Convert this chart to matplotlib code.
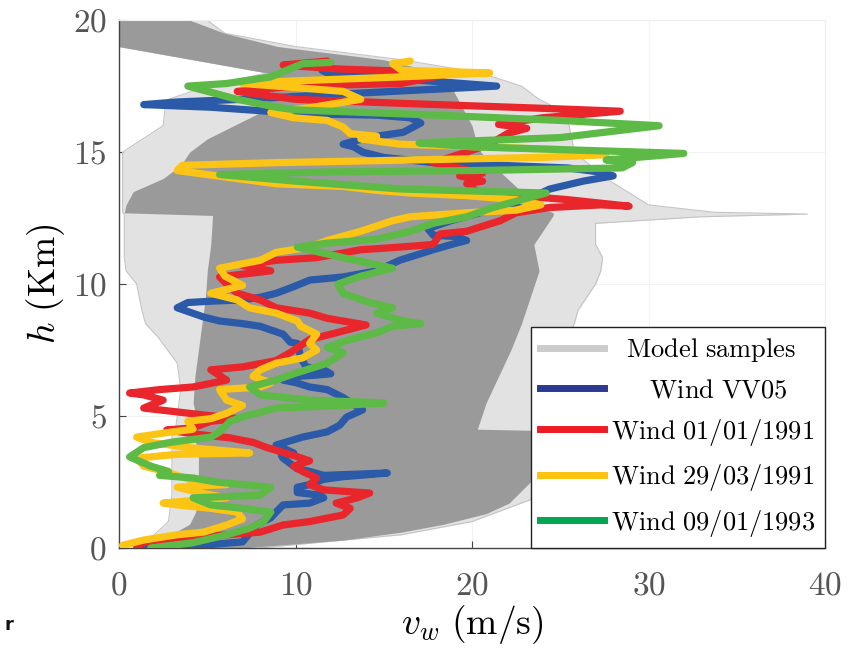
import matplotlib
matplotlib.use("Agg")
import matplotlib.pyplot as plt
from matplotlib.lines import Line2D

plt.rcParams['mathtext.fontset'] = 'cm'
plt.rcParams['font.family'] = ['cmr10', 'DejaVu Serif']
plt.rcParams['axes.formatter.use_mathtext'] = True

# ---------------- model samples envelope ----------------
dense_h = [0.0, 0.3, 0.6, 0.9, 1.3, 1.7, 2.5, 3.5, 4.45, 4.5, 5.5, 6.5, 7.5, 8.5, 9.5,
           10.5, 11.5, 12.6, 12.7, 13.0, 13.5, 14.0, 14.5, 15.0, 15.5, 16.0, 16.5, 17.0,
           17.5, 18.0, 18.5, 19.0, 19.5, 20.0]
dense_left = [1.5, 2.5, 3.2, 4.0, 4.3, 4.5, 4.5, 4.5, 4.2, 4.5, 4.2, 4.3, 4.5, 4.7, 4.9,
              5.0, 5.2, 5.3, 0.3, 0.4, 0.8, 2.5, 3.5, 4.0, 5.0, 6.5, 8.0, 8.5,
              8.7, 8.4, 4.2, 0.0, 0.0, 0.0]
dense_right = [7.0, 12.7, 16.0, 18.4, 20.8, 22.1, 23.3, 23.8, 24.0, 20.3, 20.8, 21.5, 22.2, 22.8, 23.3,
               23.8, 23.5, 24.6, 24.6, 23.5, 22.8, 22.0, 21.2, 20.5, 20.2, 20.0, 19.6, 19.2,
               18.8, 18.2, 15.0, 9.0, 6.0, 4.0]

light_h = [0.0, 0.5, 1.0, 2.0, 3.0, 4.4, 4.5, 6.0, 7.0, 8.0, 8.5, 9.0, 10.0, 10.5, 11.0,
           11.5, 12.3, 12.55, 12.65, 12.72, 13.0, 14.0, 15.0, 16.0, 16.6, 17.0, 17.5,
           18.0, 18.5, 19.0, 19.5, 20.0]
light_left = [1.0, 2.0, 2.8, 3.0, 3.0, 3.0, 3.2, 3.5, 3.3, 2.2, 1.5, 1.3, 1.0, 0.4, 0.3,
              0.3, 0.3, 0.3, 0.3, 0.2, 0.2, 0.2, 0.2, 2.5, 2.6, 2.8, 5.0,
              8.4, 4.2, 0.0, 0.0, 0.0]
light_right = [8.0, 16.0, 20.0, 24.0, 25.0, 25.5, 25.0, 25.0, 25.2, 25.5, 25.8, 26.0, 27.0, 27.3, 27.4,
               27.0, 27.0, 33.0, 39.0, 33.7, 30.0, 27.6, 25.8, 25.5, 25.0, 23.8, 22.8,
               20.5, 16.0, 10.0, 6.0, 5.0]

# ---------------- measured wind profiles (v [m/s], h [km]) ----------------
vv05_v = [1.2, 3.0, 5.0, 7.0, 7.8, 8.6, 8.9, 9.3, 10.8, 11.6, 11.4, 10.1, 10.1, 10.8, 11.6, 12.7,
          15.2, 11.6, 10.8, 10.1, 9.3, 9.2, 9.9, 8.9, 10.4, 11.8, 12.5, 12.9, 13.8, 13.5, 12.7,
          11.8, 10.8, 10.1, 9.3, 10.1, 11.2, 12.0, 11.6, 10.6, 10.3, 10.2, 10.1, 9.7, 9.3, 8.0,
          7.0, 5.7, 4.8, 3.3, 3.9, 5.2, 7.0, 8.0, 8.9, 9.9, 10.8, 12.7, 14.6, 15.9, 17.8, 19.1,
          19.7, 19.1, 17.8, 17.5, 18.8, 21.0, 23.1, 24.4, 26.3, 28.0, 27.2, 25.4, 21.6, 17.8,
          15.0, 13.8, 13.3, 12.7, 13.5, 14.6, 16.1, 17.1, 16.5, 14.6, 10.8, 8.4, 5.2, 1.4, 3.3,
          7.0, 8.4, 14.0, 21.4, 16.5, 16.5, 11.8, 11.5]
vv05_h = [0.0, 0.05, 0.12, 0.23, 0.87, 1.14, 1.36, 1.63, 1.7, 1.9, 2.0, 2.1, 2.3, 2.4, 2.6, 2.7,
          2.84, 2.75, 2.9, 3.0, 3.4, 3.5, 3.6, 3.9, 4.2, 4.4, 4.65, 4.96, 5.23, 5.35, 5.7,
          6.0, 6.1, 6.25, 6.36, 6.5, 6.55, 6.6, 6.75, 6.86, 7.2, 7.5, 7.75, 7.8, 8.1, 8.4,
          8.5, 8.6, 8.75, 9.1, 9.3, 9.35, 9.4, 9.5, 9.65, 9.9, 10.15, 10.27, 10.5, 10.9, 11.3, 11.55,
          11.65, 11.8, 11.85, 12.1, 12.4, 12.8, 13.2, 13.6, 13.9, 14.1, 14.25, 14.4, 14.5, 14.6,
          14.8, 15.0, 15.2, 15.3, 15.45, 15.6, 15.75, 16.1, 16.3, 16.4, 16.45, 16.55, 16.7, 16.8, 16.9,
          17.0, 17.05, 17.25, 17.5, 17.75, 17.9, 18.0, 18.1]

r91_v = [1.0, 1.4, 4.2, 6.1, 8.0, 9.3, 10.8, 12.7, 13.1, 12.3, 13.5, 14.2, 11.6, 10.8, 11.2, 10.4,
         9.9, 10.8, 9.9, 8.4, 7.6, 6.3, 4.5, 2.7, 4.2, 5.2, 6.7, 4.0, 1.4, 2.5, 1.4, 0.6, 2.3,
         4.2, 6.1, 5.2, 7.0, 8.9, 9.7, 10.8, 12.0, 14.0, 11.8, 10.8, 8.9, 8.0, 6.7, 6.1, 5.7,
         8.6, 7.0, 8.9, 11.2, 13.7, 15.9, 17.8, 18.2, 19.7, 21.6, 22.5, 24.4, 27.3, 28.9, 25.4,
         23.5, 20.5, 19.7, 20.6, 19.3, 20.6, 17.8, 19.7, 21.0, 22.0, 23.1, 21.5, 24.0, 28.4,
         24.4, 15.9, 10.0, 6.7, 10.0, 16.0, 19.0, 12.4, 9.3, 11.8]
r91_h = [0.05, 0.2, 0.38, 0.5, 0.6, 0.87, 1.0, 1.25, 1.5, 1.7, 1.9, 2.08, 2.2, 2.4, 2.65, 2.9,
         3.1, 3.3, 3.5, 3.8, 4.0, 4.17, 4.3, 4.47, 4.55, 4.8, 4.9, 5.1, 5.3, 5.6, 5.8, 5.87, 6.0,
         6.1, 6.36, 6.75, 6.86, 7.1, 7.4, 7.9, 8.1, 8.45, 8.7, 8.9, 9.1, 9.4, 9.65, 10.0, 10.27,
         10.5, 10.7, 10.9, 11.0, 11.3, 11.4, 11.5, 11.9, 12.0, 12.4, 12.7, 12.9, 13.0, 12.95, 13.2,
         13.3, 13.4, 13.8, 13.9, 14.1, 14.2, 14.6, 15.0, 15.3, 15.7, 15.9, 16.05, 16.3, 16.55,
         16.65, 16.85, 17.0, 17.3, 17.5, 17.6, 18.0, 18.15, 18.3, 18.45]

y91_v = [0.2, 1.4, 3.3, 4.8, 6.1, 7.0, 6.7, 5.2, 3.3, 2.5, 4.2, 6.1, 4.5, 3.3, 4.5, 6.1, 4.0,
         2.3, 1.4, 1.0, 3.3, 7.4, 4.0, 1.8, 1.0, 2.5, 4.2, 3.9, 5.2, 6.1, 7.0, 6.1, 5.7, 8.0,
         8.6, 7.6, 8.0, 8.9, 10.4, 11.2, 10.8, 11.2, 10.3, 10.1, 8.9, 7.4, 6.7, 5.2, 7.0, 6.0,
         5.7, 8.0, 8.9, 10.8, 11.8, 13.7, 15.5, 16.5, 19.7, 22.5, 23.9, 22.5, 19.7, 16.5, 14.6,
         12.7, 8.9, 6.1, 3.3, 3.6, 8.9, 16.5, 24.0, 27.6, 24.9, 15.9, 13.7, 14.6, 13.1, 12.7,
         11.8, 9.9, 8.6, 11.0, 13.7, 12.7, 9.9, 7.0, 10.0, 16.0, 21.0, 16.0, 15.5, 16.5]
y91_h = [0.1, 0.3, 0.5, 0.6, 0.87, 1.1, 1.36, 1.5, 1.63, 1.7, 1.8, 1.9, 2.1, 2.3, 2.35, 2.4, 2.6,
         2.95, 3.1, 3.4, 3.55, 3.6, 3.8, 4.0, 4.2, 4.35, 4.5, 4.8, 4.9, 5.1, 5.4, 5.6, 6.0, 6.1,
         6.25, 6.5, 6.75, 7.0, 7.2, 7.5, 7.75, 8.1, 8.4, 8.6, 8.9, 9.1, 9.4, 9.65, 9.95, 10.3,
         10.6, 10.9, 11.2, 11.4, 11.65, 12.0, 12.4, 12.55, 12.7, 12.8, 13.0, 13.2, 13.35, 13.45, 13.55,
         13.7, 13.8, 14.05, 14.3, 14.5, 14.6, 14.7, 14.8, 14.9, 15.1, 15.3, 15.5, 15.6, 15.7, 15.95,
         16.2, 16.3, 16.5, 16.7, 17.0, 17.3, 17.45, 17.6, 17.7, 17.85, 18.0, 18.1, 18.35, 18.45]

g93_v = [1.8, 4.2, 6.1, 7.4, 8.2, 8.6, 7.0, 5.2, 4.2, 6.1, 8.0, 8.6, 7.0, 5.5, 4.2, 2.3, 2.8,
         1.8, 0.6, 1.4, 2.9, 5.2, 5.7, 6.3, 7.0, 8.9, 12.7, 15.0, 10.8, 8.0, 7.4, 8.9, 9.9, 11.8,
         12.7, 11.8, 13.1, 14.6, 15.5, 17.1, 16.1, 14.6, 15.5, 14.2, 12.7, 12.4, 13.7, 15.5, 12.7,
         10.1, 11.8, 14.6, 16.5, 17.8, 19.7, 21.2, 24.2, 16.0, 10.0, 5.7, 12.0, 20.0, 28.5, 29.1,
         27.6, 32.0, 20.0, 17.0, 25.0, 30.6, 25.0, 18.0, 10.0, 8.9, 6.7, 3.9, 6.1, 8.6, 10.4, 12.0]
g93_h = [0.0, 0.2, 0.5, 0.75, 1.0, 1.36, 1.5, 1.63, 1.9, 1.95, 2.0, 2.3, 2.4, 2.5, 2.65, 2.75, 2.9,
         3.1, 3.45, 3.8, 4.0, 4.2, 4.4, 4.8, 4.97, 5.3, 5.4, 5.5, 5.6, 5.8, 6.1, 6.36, 6.6, 7.0,
         7.4, 7.6, 7.9, 8.15, 8.4, 8.5, 8.6, 8.9, 9.1, 9.3, 9.65, 10.0, 10.3, 10.6, 11.0,
         11.4, 11.55, 11.7, 12.0, 12.3, 12.55, 12.9, 13.45, 13.6, 13.9, 14.15, 14.25, 14.3, 14.4, 14.6,
         14.7, 14.95, 15.2, 15.35, 15.55, 16.0, 16.2, 16.4, 16.6, 16.7, 17.0, 17.5, 17.6, 17.85, 18.35, 18.4]

labels = ["Model samples", "Wind VV05", "Wind 01/01/1991", "Wind 29/03/1991", "Wind 09/01/1993"]
line_colors = ["#2a5aa8", "#e8262b", "#fcc414", "#5dba47"]
legend_colors = ["#cccccc", "#2b3990", "#ed1c24", "#ffc20e", "#00a651"]
x_ticks = [0, 10, 20, 30, 40]
y_ticks = [0, 5, 10, 15, 20]

fig = plt.figure(figsize=(8.5, 6.5), dpi=100)
ax = fig.add_axes([0.14, 0.157, 0.8306, 0.812])

# model samples
ax.fill_betweenx(light_h, light_left, light_right, color="#e2e2e2", lw=0, zorder=1)
ax.plot(light_left, light_h, color="#c4c4c4", lw=0.8, zorder=1.5)
ax.plot(light_right, light_h, color="#c4c4c4", lw=0.8, zorder=1.5)
ax.fill_betweenx(dense_h, dense_left, dense_right, color="#9a9a9a", lw=0, zorder=2)

series = [(vv05_v, vv05_h), (r91_v, r91_h), (y91_v, y91_h), (g93_v, g93_h)]
for (v, h), c in zip(series, line_colors):
    ax.plot(v, h, color=c, lw=5.2, solid_joinstyle='round', solid_capstyle='round', zorder=3)

ax.set_xlim(0, 40)
ax.set_ylim(0, 20)
ax.set_xticks(x_ticks)
ax.set_yticks(y_ticks)
ax.grid(True, color="#f2f2f2", lw=0.8)
ax.set_axisbelow(True)
ax.tick_params(direction='in', length=5, width=0.8, colors='#444444', labelsize=24,
               labelcolor='#555555')
ax.tick_params(axis='x', pad=17)
ax.tick_params(axis='y', pad=9)
for s in ['top', 'right']:
    ax.spines[s].set_color('#eeeeee')
for s in ['left', 'bottom']:
    ax.spines[s].set_color('#444444')
    ax.spines[s].set_linewidth(1.0)

ax.set_xlabel(r"$v_w\ \mathrm{(m/s)}$", fontsize=27, labelpad=2)
ax.set_ylabel(r"$h\ \mathrm{(Km)}$", fontsize=27, labelpad=4)

handles = [Line2D([], [], color=c, lw=5) for c in legend_colors]
leg_labels = [r"$\ \ \mathrm{Model\ samples}$", r"$\ \ \ \ \ \mathrm{Wind\ VV05}$",
              r"$\mathrm{Wind\ 01/01/1991}$", r"$\mathrm{Wind\ 29/03/1991}$",
              r"$\mathrm{Wind\ 09/01/1993}$"]
leg = ax.legend(handles, leg_labels, loc='lower right', borderaxespad=0, fontsize=19,
                frameon=True, fancybox=False, edgecolor='#222222', framealpha=1,
                handlelength=2.4, handletextpad=0.3, labelspacing=0.55, borderpad=0.35)
leg.get_frame().set_linewidth(1.0)
leg.set_zorder(5)

fig.text(0.005, 0.03, "r", fontsize=13, fontweight='bold', family='DejaVu Sans', color='#111111')

fig.savefig("out.png", dpi=100)
